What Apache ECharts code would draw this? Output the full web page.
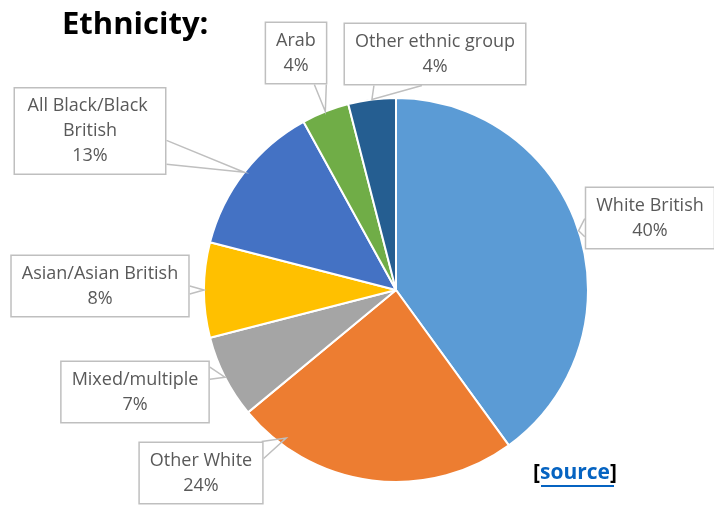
<!DOCTYPE html>
<html>
<head>
<meta charset="utf-8">
<script src="https://cdn.jsdelivr.net/npm/echarts@6/dist/echarts.min.js"></script>
<style>html,body{margin:0;padding:0;background:#fff}#c{width:714px;height:505px}</style>
</head>
<body>
<div id="c"></div>
<script>
const categories = ['White British','Other White','Mixed/multiple','Asian/Asian British','All Black/Black British','Arab','Other ethnic group'];
const values = [40, 24, 7, 8, 13, 4, 4];
const colors = ['#5B9BD5','#ED7D31','#A5A5A5','#FFC000','#4472C4','#70AD47','#255E91'];

// layout only: label box centres, callout pointer placement
const labelCentres = [[650,218],[201,473],[135,392],[100,286],[90,131],[296,53],[435,54]];
const pointerFrac = [0.5, 0.84, 0.5, 0.5, 0.5, 0.5, 0.5];
const pointerRad = [1.0, 0.96, 1.0, 1.0, 1.0, 1.0, 1.0];
const baseHalf = [9, 0, 6, 4, 12, 6, 24];
const baseShift = [-3, 0, -4, 0, -20, -5, 26];

const chart = echarts.init(document.getElementById('c'));
const FONT = '"Open Sans", sans-serif';

function calloutPoints(p) {
  const i = p.dataIndex;
  const c = labelCentres[i];
  const w = p.labelRect.width, h = p.labelRect.height;
  const x0 = c[0] - w / 2, x1 = c[0] + w / 2, y0 = c[1] - h / 2, y1 = c[1] + h / 2;
  const data = chart.getModel().getSeriesByIndex(p.seriesIndex).getData();
  const lay = data.getItemLayout(i);
  const a = lay.startAngle + (lay.endAngle - lay.startAngle) * pointerFrac[i];
  const rr = lay.r * pointerRad[i];
  const tip = [lay.cx + rr * Math.cos(a), lay.cy + rr * Math.sin(a)];
  const half = baseHalf[i], sh = baseShift[i];
  const clamp = (v, lo, hi) => Math.max(lo, Math.min(hi, v));
  let b1, b2;
  if (tip[0] > x1 && tip[1] < y0) {
    b1 = [x1 - 2, y0]; b2 = [x1, y0 + 17];
  } else if (tip[0] > x1 && tip[1] < y1) {
    const yy = clamp(tip[1] + sh, y0 + half, y1 - half);
    b1 = [x1, yy - half]; b2 = [x1, yy + half];
  } else if (tip[0] < x0 && tip[1] < y1) {
    const yy = clamp(tip[1] + sh, y0 + half, y1 - half);
    b1 = [x0, yy - half]; b2 = [x0, yy + half];
  } else if (tip[1] > y1) {
    const xx = clamp(tip[0] + sh, x0 + half, x1 - half);
    b1 = [xx - half, y1]; b2 = [xx + half, y1];
  } else {
    const xx = clamp(tip[0] + sh, x0 + half, x1 - half);
    b1 = [xx - half, y0]; b2 = [xx + half, y0];
  }
  return [b1, tip, b2];
}

const pieData = categories.map((n, i) => ({ name: n, value: values[i], itemStyle: { color: colors[i] } }));
const labelData = categories.map((n, i) => {
  const d = { name: n, value: values[i] };
  if (n === 'All Black/Black British') d.label = { width: 130, overflow: 'break' };
  return d;
});

chart.setOption({
  animation: false,
  title: {
    text: 'Ethnicity:',
    left: 57, top: 5,
    textStyle: { fontFamily: FONT, fontWeight: 'bold', fontSize: 31, color: '#000' }
  },
  graphic: [
    {
      type: 'text', left: 533, top: 463,
      style: {
        text: '{b|[}{l|source}{b|]}',
        rich: {
          b: { fontFamily: FONT, fontWeight: 'bold', fontSize: 21, fill: '#000' },
          l: { fontFamily: FONT, fontWeight: 'bold', fontSize: 21, fill: '#0563C1' }
        }
      }
    },
    { type: 'rect', left: 541, top: 485, shape: { width: 73, height: 2 }, style: { fill: '#0563C1' } }
  ],
  series: [
    {
      type: 'pie',
      z: 2,
      center: [396, 290],
      radius: 192,
      startAngle: 90,
      clockwise: true,
      silent: true,
      itemStyle: { borderColor: '#fff', borderWidth: 2 },
      label: { show: false },
      labelLine: { show: false },
      data: pieData
    },
    {
      type: 'pie',
      z: 3,
      center: [396, 290],
      radius: 192,
      startAngle: 90,
      clockwise: true,
      silent: true,
      avoidLabelOverlap: false,
      itemStyle: { color: 'rgba(0,0,0,0)', borderWidth: 0 },
      label: {
        show: true,
        position: 'outside',
        formatter: p => p.name + '\n' + Math.round(p.percent) + '%',
        fontFamily: FONT,
        fontSize: 18,
        lineHeight: 25,
        color: '#595959',
        align: 'center',
        backgroundColor: '#fff',
        borderColor: '#BFBFBF',
        borderWidth: 1.5,
        padding: [5, 10]
      },
      labelLine: { show: true, length: 10, length2: 0, lineStyle: { color: '#BFBFBF', width: 1.5 } },
      labelLayout: p => {
        const c = labelCentres[p.dataIndex];
        return { x: c[0], y: c[1], align: 'center', verticalAlign: 'middle', labelLinePoints: calloutPoints(p) };
      },
      data: labelData
    }
  ]
});
</script>
</body>
</html>
